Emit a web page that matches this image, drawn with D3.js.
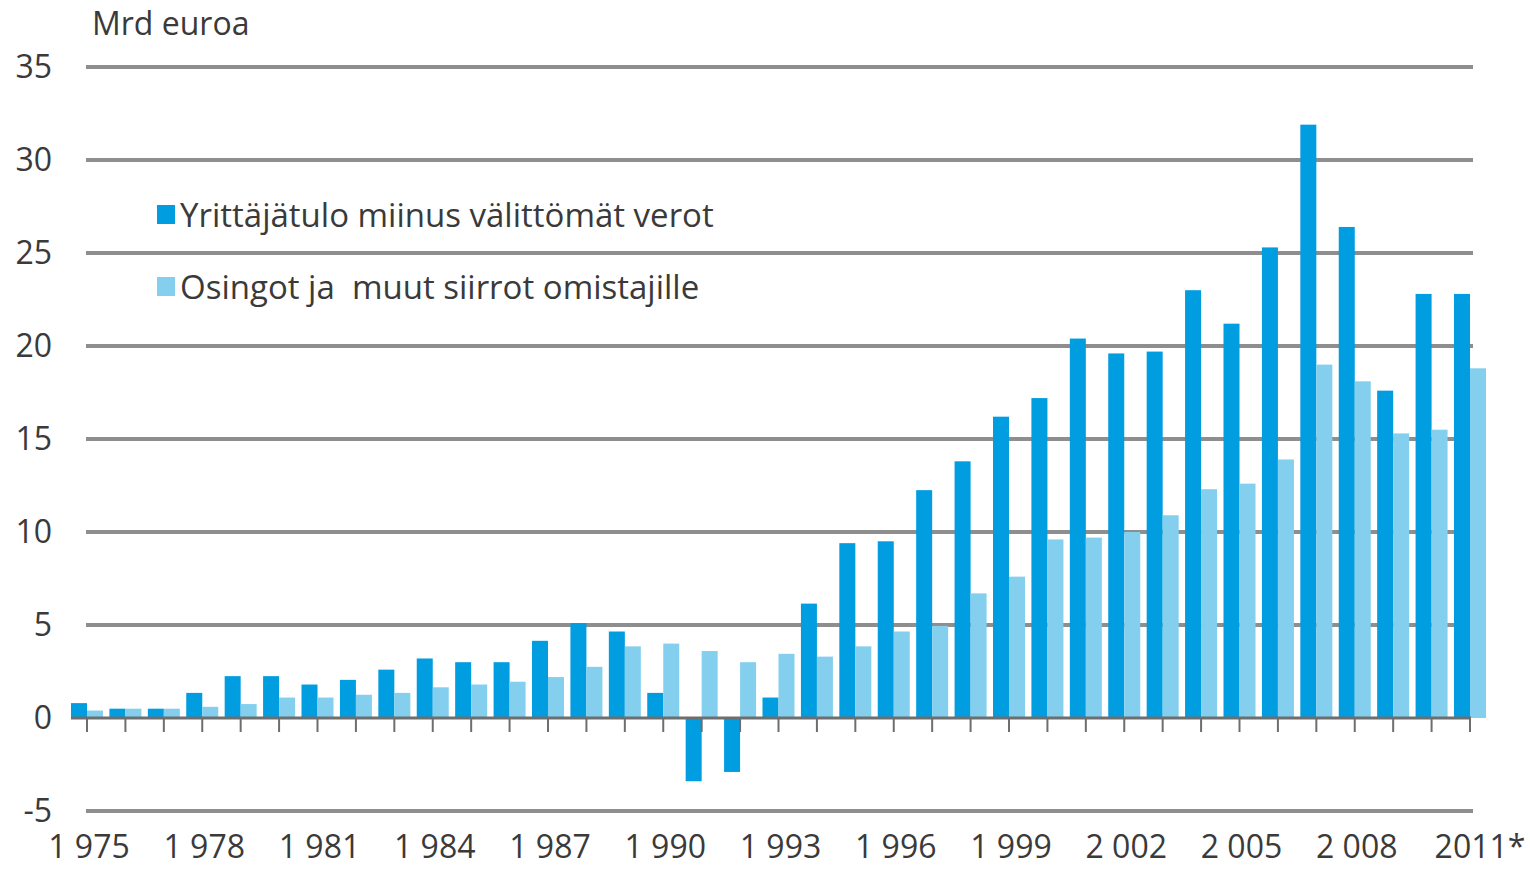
<!DOCTYPE html>
<html>
<head>
<meta charset="utf-8">
<script src="https://cdn.jsdelivr.net/npm/d3@7"></script>
<style>
  body { margin: 0; background: #fff; }
  text { font-family: "Open Sans", sans-serif; fill: #3a3a3a; }
</style>
</head>
<body>
<div id="viz"></div>
<script>
const years = d3.range(1975, 2012);

const entrepreneurIncome = [
    0.8, 0.5, 0.5, 1.35, 2.25, 2.25, 1.8, 2.05, 2.6, 3.2,
    3.0, 3.0, 4.15, 5.1, 4.65, 1.35, -3.4, -2.9, 1.1, 6.15,
    9.4, 9.5, 12.25, 13.8, 16.2, 17.2, 20.4, 19.6, 19.7, 23.0,
    21.2, 25.3, 31.9, 26.4, 17.6, 22.8, 22.8
];

const dividends = [
    0.4, 0.5, 0.5, 0.6, 0.75, 1.1, 1.1, 1.25, 1.35, 1.65,
    1.8, 1.95, 2.2, 2.75, 3.85, 4.0, 3.6, 3.0, 3.45, 3.3,
    3.85, 4.65, 4.95, 6.7, 7.6, 9.6, 9.7, 10.0, 10.9, 12.3,
    12.6, 13.9, 19.0, 18.1, 15.3, 15.5, 18.8
];

const seriesNames = ["Yrittäjätulo miinus välittömät verot", "Osingot ja  muut siirrot omistajille"];
const seriesColors = ["#009de0", "#84cfee"];
const yTicks = [-5, 0, 5, 10, 15, 20, 25, 30, 35];
const xLabelYears = d3.range(1975, 2012, 3);
const xLabel = y => y === 2011 ? "2011*" : String(y).replace(/^(\d)/, "$1 ");

const width = 1530;
const height = 869;

const svg = d3.select("#viz").append("svg")
    .attr("width", width)
    .attr("height", height);

const y = d3.scaleLinear()
    .domain([-5, 35])
    .range([811, 67]);

// group centre sits on the tick: first 1975 at 87, last 2011 at 1470
const step = (1470 - 87) / 36;
const x = d3.scaleBand()
    .domain(years)
    .range([87 - step / 2, 1470 + step / 2])
    .paddingInner(0.167)
    .paddingOuter(0.0835);

const xSub = d3.scaleBand()
    .domain([0, 1])
    .range([0, x.bandwidth()]);

// grid lines (not at zero)
svg.selectAll(".grid")
    .data(yTicks.filter(d => d !== 0))
    .join("line")
        .attr("class", "grid")
        .attr("x1", 86)
        .attr("x2", 1473)
        .attr("y1", d => y(d))
        .attr("y2", d => y(d))
        .attr("stroke", "#8e8e8e")
        .attr("stroke-width", 4);

svg.selectAll(".y-label")
    .data(yTicks)
    .join("text")
        .attr("class", "y-label")
        .attr("x", 52)
        .attr("y", d => y(d))
        .attr("dy", "0.35em")
        .style("text-anchor", "end")
        .style("font-size", "32px")
        .text(d => d);

svg.append("text")
    .attr("x", 92)
    .attr("y", 35)
    .style("font-size", "32px")
    .text("Mrd euroa");

const gYears = svg.selectAll(".year")
    .data(years)
    .join("g")
        .attr("class", "year")
        .attr("transform", d => `translate(${x(d)},0)`);

gYears.selectAll("rect")
    .data((d, i) => [entrepreneurIncome[i], dividends[i]])
    .join("rect")
        .attr("x", (d, i) => xSub(i))
        .attr("width", xSub.bandwidth())
        .attr("y", d => y(Math.max(0, d)))
        .attr("height", d => Math.abs(y(d) - y(0)))
        .attr("fill", (d, i) => seriesColors[i]);

// zero axis with ticks
svg.append("line")
    .attr("x1", x(1975))
    .attr("x2", 1471)
    .attr("y1", y(0))
    .attr("y2", y(0))
    .attr("stroke", "#6e6e6e")
    .attr("stroke-width", 3);

svg.selectAll(".x-tick")
    .data(years)
    .join("line")
        .attr("class", "x-tick")
        .attr("x1", d => x(d) + x.bandwidth() / 2)
        .attr("x2", d => x(d) + x.bandwidth() / 2)
        .attr("y1", y(0))
        .attr("y2", y(0) + 14)
        .attr("stroke", "#6e6e6e")
        .attr("stroke-width", 2);

svg.selectAll(".x-label")
    .data(xLabelYears)
    .join("text")
        .attr("class", "x-label")
        .attr("x", d => x(d) + x.bandwidth() / 2 + (d === 2011 ? 10 : 2))
        .attr("y", 858)
        .style("text-anchor", "middle")
        .style("font-size", "32px")
        .text(d => xLabel(d));

// legend
const legend = svg.selectAll(".legend")
    .data(seriesNames)
    .join("g")
        .attr("class", "legend")
        .attr("transform", (d, i) => `translate(157,${215 + i * 72})`);

legend.append("rect")
    .attr("x", 0)
    .attr("y", -10)
    .attr("width", 18)
    .attr("height", 19)
    .attr("fill", (d, i) => seriesColors[i]);

legend.append("text")
    .attr("x", 23)
    .attr("y", 0)
    .attr("dy", "0.35em")
    .style("font-size", "33px")
    .style("white-space", "pre")
    .text(d => d);
</script>
</body>
</html>
